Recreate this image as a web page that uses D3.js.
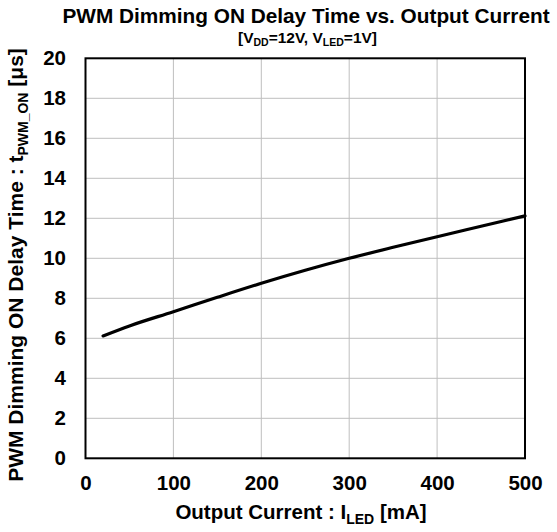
<!DOCTYPE html>
<html><head><meta charset="utf-8">
<script src="https://cdn.jsdelivr.net/npm/d3@7"></script>
<style>body{margin:0;background:#fff}svg{display:block;font-family:"Liberation Sans",Arial,sans-serif;font-weight:bold}</style>
</head><body><svg id="c" width="557" height="532"></svg>
<script>
const currents = [20, 50, 100, 150, 200, 250, 300, 350, 400, 450, 500];
const delays   = [6.12, 6.62, 7.33, 8.05, 8.75, 9.4, 10.0, 10.55, 11.08, 11.6, 12.12];
const xTicks = [0, 100, 200, 300, 400, 500];
const yTicks = [0, 2, 4, 6, 8, 10, 12, 14, 16, 18, 20];

const svg = d3.select("#c");
const L = 85.5, R = 525, T = 58.3, B = 458.3;
const x = d3.scaleLinear().domain([0, 500]).range([L, R]);
const y = d3.scaleLinear().domain([0, 20]).range([B, T]);
const FONT = "Liberation Sans, Arial, sans-serif";

// grid
svg.append("g").selectAll("line").data(xTicks.slice(1, -1)).join("line")
  .attr("x1", d => x(d)).attr("x2", d => x(d)).attr("y1", T).attr("y2", B)
  .attr("stroke", "#bfbfbf").attr("stroke-width", 1);
svg.append("g").selectAll("line").data(yTicks.slice(1, -1)).join("line")
  .attr("y1", d => y(d)).attr("y2", d => y(d)).attr("x1", L).attr("x2", R)
  .attr("stroke", "#bfbfbf").attr("stroke-width", 1);

// axes (labels only)
const xa = svg.append("g").attr("transform", `translate(0,${B})`)
  .call(d3.axisBottom(x).tickValues(xTicks).tickSize(0).tickPadding(17));
xa.select(".domain").remove();
xa.selectAll("text").attr("font-size", 20.5).attr("font-family", FONT).attr("font-weight", "bold").attr("fill", "#000");
const ya = svg.append("g").attr("transform", `translate(${L},0)`)
  .call(d3.axisLeft(y).tickValues(yTicks).tickSize(0).tickPadding(19.5));
ya.select(".domain").remove();
ya.selectAll("text").attr("font-size", 20.5).attr("font-family", FONT).attr("font-weight", "bold").attr("fill", "#000");

// frame
svg.append("rect").attr("x", L).attr("y", T).attr("width", R - L).attr("height", B - T)
  .attr("fill", "none").attr("stroke", "#000").attr("stroke-width", 2);

// curve
const data = currents.map((c, i) => [c, delays[i]]);
svg.append("path").datum(data)
  .attr("d", d3.line().x(d => x(d[0])).y(d => y(d[1])).curve(d3.curveMonotoneX))
  .attr("fill", "none").attr("stroke", "#000").attr("stroke-width", 3.2).attr("stroke-linecap", "round");

// titles
svg.append("text").attr("x", 306).attr("y", 22.5).attr("text-anchor", "middle")
  .attr("font-size", 20.8).text("PWM Dimming ON Delay Time vs. Output Current");
const st = svg.append("text").attr("x", 307.5).attr("y", 43).attr("text-anchor", "middle").attr("font-size", 15.5);
st.append("tspan").text("[V");
st.append("tspan").attr("font-size", 10.5).attr("dy", 2.5).text("DD");
st.append("tspan").attr("dy", -2.5).text("=12V, V");
st.append("tspan").attr("font-size", 10.5).attr("dy", 2.5).text("LED");
st.append("tspan").attr("dy", -2.5).text("=1V]");

const xt = svg.append("text").attr("x", 301).attr("y", 519).attr("text-anchor", "middle").attr("font-size", 20.5);
xt.append("tspan").text("Output Current : I");
xt.append("tspan").attr("font-size", 14).attr("dy", 4.5).text("LED");
xt.append("tspan").attr("dy", -4.5).text(" [mA]");

const yt = svg.append("text").attr("transform", `translate(23,265) rotate(-90)`)
  .attr("text-anchor", "middle").attr("font-size", 21);
yt.append("tspan").text("PWM Dimming ON Delay Time : t");
yt.append("tspan").attr("font-size", 14).attr("dy", 4.5).text("PWM_ON");
yt.append("tspan").attr("dy", -4.5).text(" [μs]");
</script></body></html>
